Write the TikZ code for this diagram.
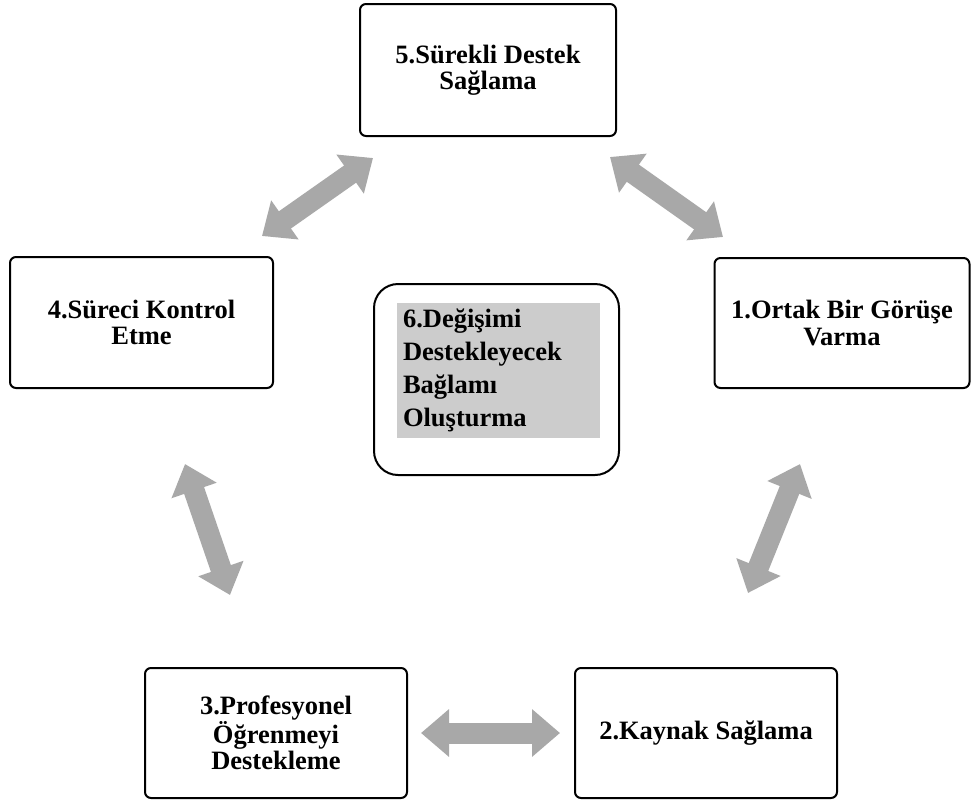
\documentclass[tikz,border=0pt]{standalone}
\usepackage{fontspec}
\setmainfont{Liberation Serif}
\usetikzlibrary{arrows.meta}
\definecolor{arrowgray}{RGB}{168,168,168}
\definecolor{innergray}{RGB}{204,204,204}
\tikzset{
  box/.style={draw=black, line width=2pt, rounded corners=6pt, fill=white,
    align=center, inner sep=2pt,
    font=\bfseries\fontsize{26.5}{26.5}\selectfont},
  outerbox/.style={draw=black, line width=2pt, rounded corners=24pt, fill=white},
  graybox/.style={fill=innergray, draw=none, align=left, inner xsep=6pt, inner ysep=0pt,
    text width=191pt, minimum height=135pt,
    font=\bfseries\fontsize{26.5}{33}\selectfont},
  blockarrow/.style={draw=arrowgray, line width=21pt,
    {Triangle[length=28pt, width=46pt, fill=arrowgray]}-{Triangle[length=28pt, width=46pt, fill=arrowgray]}}
}
\begin{document}
\begin{tikzpicture}[x=1pt, y=-1pt]
\useasboundingbox (0,0) rectangle (971,804);
\fill[white] (0,0) rectangle (971,804);

\node[box, minimum width=256pt, minimum height=132pt] (b5) at (488,70) {5.Sürekli Destek\\Sağlama};
\node[box, minimum width=263pt, minimum height=131pt] (b4) at (141.5,322.5) {4.Süreci Kontrol\\Etme};
\node[box, minimum width=255pt, minimum height=130pt] (b1) at (842,323) {1.Ortak Bir Görüşe\\Varma};
\node[box, minimum width=262pt, minimum height=130pt] (b3) at (276,733) {3.Profesyonel\\Öğrenmeyi\\Destekleme};
\node[box, minimum width=262pt, minimum height=130pt] (b2) at (706,733) {2.Kaynak Sağlama};

\node[outerbox, minimum width=245pt, minimum height=191pt] (b6) at (496.5,379.5) {};
\node[graybox] (g6) at (498.5,370.5) {6.Değişimi\\Destekleyecek\\Bağlamı\\Oluşturma};

\coordinate (a54) at (373,158);
\coordinate (a45) at (262,236);
\coordinate (a51) at (610,157);
\coordinate (a15) at (723,237);
\coordinate (a43) at (185,464);
\coordinate (a34) at (230,595);
\coordinate (a12) at (800,464);
\coordinate (a21) at (748,593);
\coordinate (a32) at (421,733);
\coordinate (a23) at (560,733);

\draw[blockarrow] (a54) -- (a45);
\draw[blockarrow] (a51) -- (a15);
\draw[blockarrow] (a43) -- (a34);
\draw[blockarrow] (a12) -- (a21);
\draw[blockarrow] (a32) -- (a23);
\end{tikzpicture}
\end{document}
